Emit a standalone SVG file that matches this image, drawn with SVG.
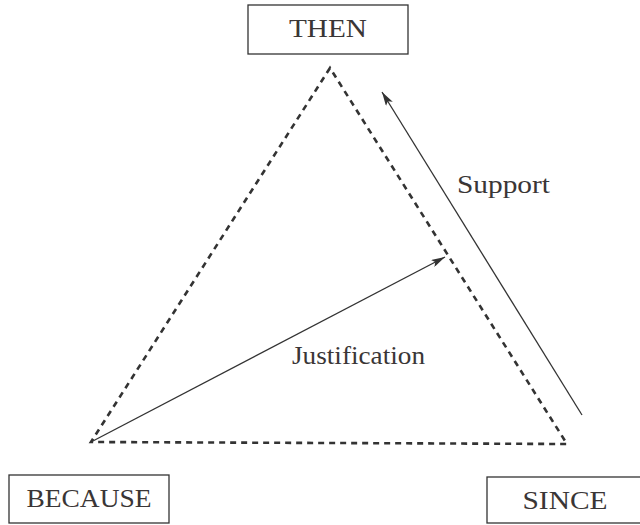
<svg xmlns="http://www.w3.org/2000/svg" width="640" height="525" viewBox="0 0 640 525">
<defs>
<style>
.box{fill:none;stroke:#333;stroke-width:1.3}
.lbl{font-family:"Liberation Serif","Times New Roman",serif;font-size:25px;fill:#3a3636}
.dash{fill:none;stroke:#333;stroke-width:2.6;stroke-dasharray:6 5}
.arr{fill:none;stroke:#333;stroke-width:1.3;marker-end:url(#ah)}
</style>
<marker id="ah" viewBox="0 0 14 8" refX="14" refY="4" markerWidth="14" markerHeight="8" markerUnits="userSpaceOnUse" orient="auto">
<path d="M0,0 L14,4 L0,8 L3,4 Z" fill="#333"/>
</marker>
</defs>
<rect width="640" height="525" fill="#fff"/>
<g id="then">
<rect class="box" x="248" y="5" width="160" height="49"/>
<text class="lbl" x="328" y="37" text-anchor="middle" textLength="78" lengthAdjust="spacingAndGlyphs">THEN</text>
</g>
<g id="because">
<rect class="box" x="9" y="475" width="160" height="48"/>
<text class="lbl" x="89" y="507" text-anchor="middle" textLength="125" lengthAdjust="spacingAndGlyphs">BECAUSE</text>
</g>
<g id="since">
<rect class="box" x="487" y="477" width="160" height="46"/>
<text class="lbl" x="565" y="509" text-anchor="middle" textLength="85" lengthAdjust="spacingAndGlyphs">SINCE</text>
</g>
<g id="connectors">
<path class="dash" d="M330,68 L91,442 L567,444 Z"/>
<line class="arr" x1="91" y1="442" x2="445" y2="257"/>
<line class="arr" x1="582" y1="415" x2="382" y2="92"/>
</g>
<g id="labels">
<text class="lbl" x="457" y="193" textLength="93" lengthAdjust="spacingAndGlyphs">Support</text>
<text class="lbl" x="292" y="364" textLength="133" lengthAdjust="spacingAndGlyphs">Justification</text>
</g>
</svg>
